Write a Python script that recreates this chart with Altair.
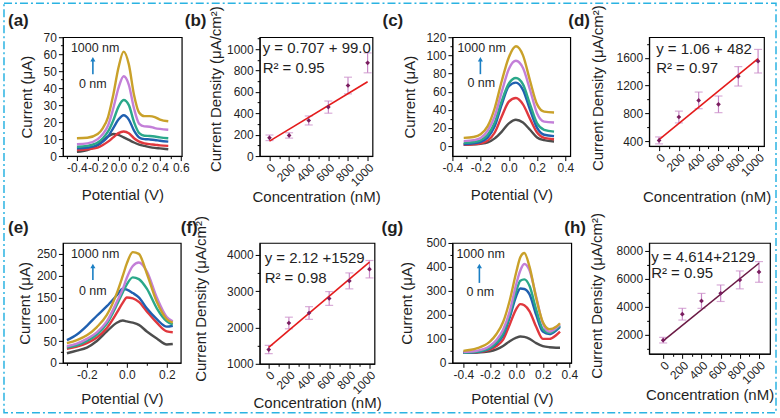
import altair as alt
import pandas as pd

FONT = "Liberation Sans"
TXT = "#1f1f1f"
ARROW = "#1b7fc4"
BORDER = "#2bb3e2"

# ---------------- data ----------------
series_names = ["0 nM", "200 nM", "400 nM", "600 nM", "800 nM", "1000 nM"]
series_colors = ["#4d4d4d", "#e0383e", "#2060b0", "#2aa88a", "#c37fd8", "#c9a12a"]

# panel (a)
a_pot = [-0.4, -0.3, -0.2, -0.15, -0.1, -0.05, 0.0, 0.05, 0.1, 0.15, 0.2, 0.25, 0.3, 0.35, 0.4, 0.48]
a_gray = [2.5, 3.5, 6.5, 9, 11.5, 13, 12.5, 11, 9.5, 8, 6.8, 6, 5.3, 4.8, 4.5, 4]
a_red = [3.5, 4, 5, 6.5, 8.5, 11, 13.5, 14.5, 13.5, 10.5, 8.5, 7.5, 7, 6.7, 6.3, 6]
a_blue = [4.5, 5, 6.5, 8.5, 11.5, 16.5, 21.5, 24, 21.5, 15, 11, 10, 9.8, 9.5, 9, 8.5]
a_teal = [5.5, 6, 8, 10.5, 14.5, 21, 29, 33, 30, 20, 13.5, 12, 11.8, 11.5, 11, 10.5]
a_violet = [7, 7.5, 10, 13, 18, 28, 40, 47, 42, 28, 19, 17.5, 17.3, 16.5, 16, 15.5]
a_gold = [10.5, 10.8, 13, 16.5, 23, 36, 52, 61.5, 54, 36, 25.5, 23.5, 23.5, 23, 21.5, 20.5]

# panel (c)
c_pot = [-0.32, -0.25, -0.2, -0.15, -0.1, -0.05, 0.0, 0.05, 0.1, 0.15, 0.2, 0.25, 0.32]
c_gray = [1.5, 2, 2.5, 4, 8.5, 16, 25, 29, 26, 18, 9.5, 6.5, 5]
c_red = [1.5, 2, 3, 6, 15, 33, 49, 53, 46, 30, 15, 9, 7.5]
c_blue = [2, 3, 4.5, 9.5, 22, 46, 66, 70, 62, 40, 20, 12.5, 11]
c_teal = [3.5, 4.5, 6.5, 12.5, 26, 50, 69, 75, 68, 46, 25, 18, 16]
c_violet = [5.5, 6.5, 9, 17, 33, 60, 85, 94, 86, 62, 36, 27, 26]
c_gold = [9, 10, 13, 22, 42, 72, 98, 110, 100, 72, 46, 38, 37]

# panel (e)
e_pot = [-0.3, -0.25, -0.2, -0.15, -0.1, -0.05, -0.02, 0.0, 0.03, 0.06, 0.1, 0.15, 0.2, 0.23]
e_gray = [22, 28, 35, 50, 72, 92, 97, 95, 92, 87, 72, 56, 42, 43]
e_red = [32, 37, 45, 58, 80, 115, 138, 150, 148, 140, 118, 92, 72, 70]
e_blue = [52, 65, 85, 108, 130, 155, 170, 168, 160, 150, 125, 100, 83, 85]
e_teal = [35, 40, 50, 65, 90, 133, 162, 180, 196, 192, 170, 125, 95, 88]
e_violet = [38, 44, 55, 70, 95, 140, 170, 195, 222, 230, 210, 150, 105, 95]
e_gold = [45, 52, 63, 82, 110, 160, 200, 228, 254, 250, 205, 140, 100, 92]

# panel (g)
g_pot = [-0.4, -0.3, -0.2, -0.15, -0.1, -0.05, 0.0, 0.03, 0.06, 0.1, 0.15, 0.2, 0.25, 0.3, 0.33]
g_gray = [42, 43, 48, 56, 70, 90, 105, 110, 108, 100, 82, 70, 65, 63, 63]
g_red = [42, 44, 55, 70, 97, 160, 225, 245, 240, 215, 150, 100, 100, 115, 130]
g_blue = [42, 45, 60, 80, 115, 190, 280, 310, 308, 285, 200, 130, 120, 135, 150]
g_teal = [42, 46, 62, 85, 122, 200, 300, 342, 348, 320, 222, 140, 125, 140, 155]
g_violet = [45, 50, 70, 95, 138, 215, 330, 385, 412, 385, 275, 165, 130, 145, 160]
g_gold = [50, 60, 88, 120, 170, 260, 380, 440, 458, 400, 270, 170, 140, 150, 165]

# calibration panels
conc = [0, 200, 400, 600, 800, 1000]
fit_x = [0, 1000]

b_y = [171, 193, 333, 458, 660, 872]
b_err = [26, 25, 42, 57, 78, 93]
b_fit = [140, 695]

d_y = [410, 747, 987, 930, 1334, 1552]
d_err = [50, 85, 120, 120, 140, 170]
d_fit = [420, 1590]

f_y = [1393, 2125, 2400, 2800, 3285, 3607]
f_err = [115, 160, 175, 190, 220, 240]
f_fit = [1450, 3800]

h_y = [1619, 3476, 4429, 4976, 5929, 6500]
h_err = [200, 420, 535, 590, 640, 740]
h_fit = [1570, 7120]

# tick positions
pot_ticks_a = [round(-0.5 + 0.1 * i, 1) for i in range(12)]
pot_ticks_c = [round(-0.4 + 0.1 * i, 1) for i in range(9)]
pot_ticks_e = [round(-0.3 + 0.1 * i, 1) for i in range(6)]
pot_ticks_g = [round(-0.4 + 0.1 * i, 1) for i in range(9)]
conc_ticks = list(range(0, 1001, 100))


# ---------------- helpers ----------------
def txt(s, x, y, size=15, align="left", weight="normal", color=TXT, baseline="middle"):
    return alt.Chart(pd.DataFrame({"t": [s]})).mark_text(
        align=align, baseline=baseline, fontSize=size, font=FONT,
        fontWeight=weight, color=color
    ).encode(x=alt.value(x), y=alt.value(y), text="t:N")


def arrow(x, y1, y2):
    d = pd.DataFrame({"k": [0]})
    shaft = alt.Chart(d).mark_rule(color=ARROW, strokeWidth=1.6).encode(
        x=alt.value(x), y=alt.value(y1 + 4), y2=alt.value(y2))
    head = alt.Chart(d).mark_point(shape="triangle-up", filled=True, size=26,
                                   color=ARROW, opacity=1).encode(
        x=alt.value(x), y=alt.value(y1 + 3))
    return [shaft, head]


def pot_axis(vals, ty):
    return alt.Axis(
        values=vals, title="Potential (V)", grid=False,
        labelExpr="abs(round(datum.value*10)) % 2 == 0 ? (datum.value < -1e-9 ? '-' : '') + format(abs(datum.value), '.1f') : ''",
        tickSize={"condition": {"test": "abs(round(datum.value*10)) % 2 == 1", "value": 2.5}, "value": 4.5},
        labelOverlap=False, labelFlush=False, labelBound=False, labelPadding=2,
        titleY=ty, titleBaseline="middle")


def num_axis(vals, step, title, tx, ty):
    return alt.Axis(
        values=vals, title=title, grid=False,
        labelExpr=f"datum.value % {step} == 0 ? format(datum.value, 'd') : ''",
        tickSize={"condition": {"test": f"datum.value % {step} != 0", "value": 2.5}, "value": 4.5},
        labelOverlap=False, labelFlush=False, labelBound=False, labelPadding=2,
        titleX=tx, titleY=ty, titleBaseline="middle")


def cv_panel(pot, curves, xdom, xvals, ydom, yvals, ystep, w, h, ytx, xty,
             ann, label, lab_xy, extra=None):
    rows = []
    for name, vals in zip(series_names, curves):
        for p, v in zip(pot, vals):
            rows.append({"pot": p, "cur": v, "s": name})
    df = pd.DataFrame(rows)
    lines = alt.Chart(df).mark_line(strokeWidth=2.4, interpolate="monotone").encode(
        x=alt.X("pot:Q", scale=alt.Scale(domain=xdom, nice=False, zero=False),
                axis=pot_axis(xvals, xty)),
        y=alt.Y("cur:Q", scale=alt.Scale(domain=ydom, nice=False, zero=False),
                axis=num_axis(yvals, ystep, "Current (μA)", ytx, h / 2)),
        color=alt.Color("s:N", scale=alt.Scale(domain=series_names, range=series_colors),
                        legend=None),
    )
    (t1x, t1y), (ax, ay1, ay2), (t2x, t2y) = ann
    layers = [lines,
              txt("1000 nm", t1x, t1y, size=12.5),
              *arrow(ax, ay1, ay2),
              txt("0 nm", t2x, t2y, size=12.5),
              txt(label, lab_xy[0], lab_xy[1], size=17, weight="bold", baseline="alphabetic")]
    if extra:
        layers = extra + layers
    return alt.layer(*layers).properties(width=w, height=h)


def cal_panel(yv, err, fit, fit_color, xdom, ydom, yvals, ystep, w, h, ytx, tyo, xty,
              eq, r2, eq_xy, r2_xy, label, lab_xy):
    df = pd.DataFrame({"c": conc, "v": yv, "e": err})
    df["lo"] = df["v"] - df["e"]
    df["hi"] = df["v"] + df["e"]
    fdf = pd.DataFrame({"c": fit_x, "v": fit})
    xs = alt.Scale(domain=xdom, nice=False, zero=False)
    ys = alt.Scale(domain=ydom, nice=False, zero=False)
    xaxis = alt.Axis(values=conc_ticks, title="Concentration (nM)", grid=False,
                     labelExpr="datum.value % 200 == 0 ? format(datum.value, 'd') : ''",
                     tickSize={"condition": {"test": "datum.value % 200 != 0", "value": 2.5}, "value": 4.5},
                     labelAngle=315, labelAlign="right", labelBaseline="top",
                     labelOverlap=False, labelFlush=False, labelBound=False, labelPadding=1,
                     titleY=xty, titleBaseline="middle")
    yaxis = num_axis(yvals, ystep, "Current Density (μA/cm²)", ytx, h / 2 + tyo)

    def X(f="c"):
        return alt.X(f"{f}:Q", scale=xs, axis=xaxis)

    def Y(f):
        return alt.Y(f"{f}:Q", scale=ys, axis=yaxis)

    base = alt.Chart(df)
    ecol = "#c98ac8"
    bars = base.mark_rule(color=ecol, strokeWidth=1.2).encode(x=X(), y=Y("lo"), y2="hi:Q")
    cap_lo = base.mark_tick(color=ecol, orient="horizontal", size=8, thickness=1.2).encode(
        x=X(), y=Y("lo"))
    cap_hi = base.mark_tick(color=ecol, orient="horizontal", size=8, thickness=1.2).encode(
        x=X(), y=Y("hi"))
    fitl = alt.Chart(fdf).mark_line(color=fit_color, strokeWidth=1.6).encode(x=X(), y=Y("v"))
    pts = base.mark_point(shape="diamond", filled=True, size=22, color="#7a1d5f", opacity=1).encode(
        x=X(), y=Y("v"))
    return alt.layer(
        bars, cap_lo, cap_hi, fitl, pts,
        txt(eq, eq_xy[0], eq_xy[1]),
        txt(r2, r2_xy[0], r2_xy[1]),
        txt(label, lab_xy[0], lab_xy[1], size=17, weight="bold", baseline="alphabetic"),
    ).properties(width=w, height=h)


# outer dash-dot frame (drawn from panel a)
border = alt.Chart(pd.DataFrame({"k": [0]})).mark_rect(
    fill="transparent", stroke=BORDER, strokeWidth=1.5, strokeDash=[8, 3, 2, 3]
).encode(x=alt.value(-59), x2=alt.value(714), y=alt.value(-34), y2=alt.value(376))

pa = cv_panel(a_pot, [a_gray, a_red, a_blue, a_teal, a_violet, a_gold],
              [-0.535, 0.61], pot_ticks_a, [0, 70], list(range(0, 71, 5)), 10,
              119, 119, -36, 38,
              ((8, 11), (30, 19, 37), (16, 47)), "(a)", (-55, -11), extra=[border])

pb = cal_panel(b_y, b_err, b_fit, "#e41b1b", [-100, 1050], [0, 1112],
               list(range(0, 1101, 100)), 200, 113, 119, -44, -8, 40,
               "y = 0.707 + 99.0", "R² = 0.95", (3, 11), (3, 31), "(b)", (-75, -11))

pc = cv_panel(c_pot, [c_gray, c_red, c_blue, c_teal, c_violet, c_gold],
              [-0.4, 0.435], pot_ticks_c, [-11, 120], list(range(0, 121, 10)), 20,
              118, 119, -43, 38,
              ((5, 11), (28, 19, 37), (15, 46)), "(c)", (-70, -11))

pd_ = cal_panel(d_y, d_err, d_fit, "#e41b1b", [-100, 1060], [328, 1898],
                list(range(400, 1801, 200)), 400, 115, 109, -52, -4, 50,
                "y = 1.06 + 482", "R² = 0.97", (7, 12), (7, 31), "(d)", (-81, -11))

pe = cv_panel(e_pot, [e_gray, e_red, e_blue, e_teal, e_violet, e_gold],
              [-0.32, 0.27], pot_ticks_e, [0, 275], list(range(0, 251, 25)), 50,
              118, 120, -38, 36,
              ((8, 11), (30, 20, 37), (16, 48)), "(e)", (-55, -10))

pf = cal_panel(f_y, f_err, f_fit, "#e41b1b", [-90, 1050], [1000, 4330],
               list(range(1000, 4001, 500)), 1000, 115, 121, -59, -5, 39,
               "y = 2.12 +1529", "R² = 0.98", (5, 15), (5, 35), "(f)", (-79, -10))

pg = cv_panel(g_pot, [g_gray, g_red, g_blue, g_teal, g_violet, g_gold],
              [-0.483, 0.415], pot_ticks_g, [0, 500], list(range(0, 501, 50)), 100,
              119, 120, -46, 36,
              ((4, 11), (27, 20, 40), (14, 49)), "(g)", (-71, -10))

ph = cal_panel(h_y, h_err, h_fit, "#6b1a45", [-146, 1115], [643, 8571],
               list(range(1000, 8001, 1000)), 2000, 121, 111, -53, -3, 41,
               "y = 4.614+2129", "R² = 0.95", (2, 14), (2, 30), "(h)", (-85, -10))

chart = alt.concat(
    pa, pb, pc, pd_, pe, pf, pg, ph,
    columns=4, spacing={"row": 87, "column": 78},
    align={"row": "each", "column": "none"}, bounds="flush",
).properties(
    padding={"left": 2, "top": 1, "right": 2, "bottom": 4},
    background="white",
).configure_axis(
    domainColor="black", tickColor="black", labelColor=TXT, titleColor=TXT,
    labelFont=FONT, titleFont=FONT, labelFontSize=12, titleFontSize=15,
    titleFontWeight="normal", grid=False, tickWidth=1, domainWidth=1,
).configure_view(stroke="black", strokeWidth=1.2)

chart.save("out.html", embed_options={"renderer": "svg", "actions": False})
